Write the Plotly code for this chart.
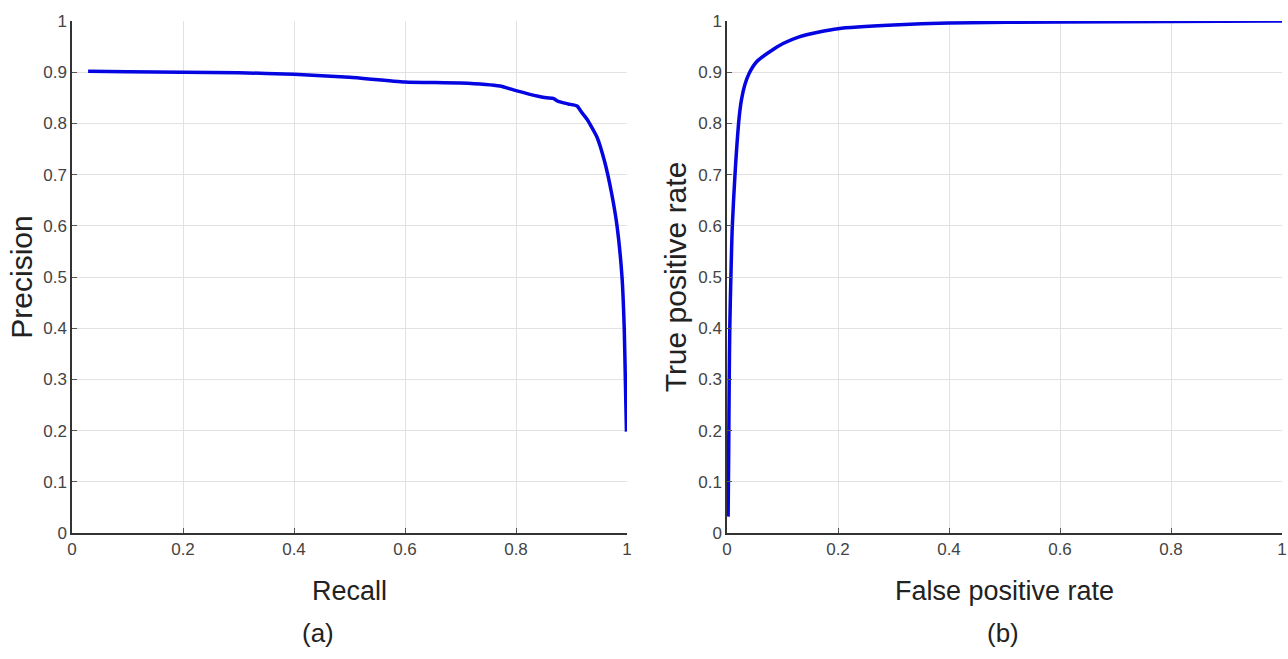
import plotly.graph_objects as go

# Precision-recall curve (a)
recall = [0.029, 0.10, 0.20, 0.30, 0.40, 0.50, 0.60, 0.70, 0.771, 0.80, 0.84, 0.855,
          0.867, 0.876, 0.894, 0.91, 0.918, 0.928, 0.946, 0.960, 0.972, 0.982,
          0.991, 0.995, 0.997, 0.998, 0.999]
precision = [0.902, 0.901, 0.900, 0.899, 0.896, 0.890, 0.881, 0.879, 0.873, 0.864,
             0.853, 0.850, 0.849, 0.843, 0.838, 0.834, 0.822, 0.808, 0.773, 0.724,
             0.665, 0.600, 0.500, 0.400, 0.300, 0.250, 0.198]

# ROC curve (b)
fpr = [0.002, 0.003, 0.004, 0.005, 0.007, 0.0096, 0.0144, 0.018, 0.022, 0.026,
       0.032, 0.040, 0.053, 0.077, 0.101, 0.13, 0.168, 0.20, 0.30, 0.40, 0.60, 0.80, 1.0]
tpr = [0.032, 0.15, 0.30, 0.40, 0.50, 0.60, 0.70, 0.76, 0.813, 0.846,
       0.875, 0.898, 0.920, 0.940, 0.956, 0.969, 0.979, 0.985, 0.992, 0.996, 0.998, 0.999, 1.0]

ticks = [0, 0.1, 0.2, 0.3, 0.4, 0.5, 0.6, 0.7, 0.8, 0.9, 1]
xticks = [0, 0.2, 0.4, 0.6, 0.8, 1]
tick_text_y = ["0", "0.1", "0.2", "0.3", "0.4", "0.5", "0.6", "0.7", "0.8", "0.9", "1"]
tick_text_x = ["0", "0.2", "0.4", "0.6", "0.8", "1"]

W, H = 1288, 659
TOP = 21
BOT = H - 533
line_color = "rgb(5,5,225)"
tick_font = dict(family="Liberation Sans Narrow, Arial Narrow, Liberation Sans", size=17, color="#444444")
xtitle_font = dict(family="Liberation Sans, Arial", size=27, color="#222222")
ytitle_font = dict(family="Liberation Sans, Arial", size=30, color="#222222")

fig = go.Figure()
fig.add_trace(go.Scatter(x=recall, y=precision, mode="lines",
                         line=dict(color=line_color, width=3.5, shape="spline", smoothing=0.5),
                         xaxis="x", yaxis="y", showlegend=False, hoverinfo="skip"))
fig.add_trace(go.Scatter(x=fpr, y=tpr, mode="lines",
                         line=dict(color=line_color, width=3.5, shape="spline", smoothing=0.8),
                         xaxis="x2", yaxis="y2", showlegend=False, hoverinfo="skip"))

def xax(domain, title, anchor):
    return dict(domain=domain, range=[0, 1], tickvals=xticks, ticktext=tick_text_x,
                showgrid=True, gridcolor="#e2e2e2", gridwidth=1, zeroline=False,
                showline=True, linecolor="#333333", linewidth=1.5, mirror=False,
                ticks="inside", ticklen=5, tickcolor="#555555", automargin=False,
                tickfont=tick_font, title=dict(text=title, font=xtitle_font, standoff=23),
                anchor=anchor, fixedrange=True)

def yax(domain, title, anchor, standoff):
    return dict(domain=domain, range=[0, 1], tickvals=ticks, ticktext=tick_text_y,
                showgrid=True, gridcolor="#e2e2e2", gridwidth=1, zeroline=False,
                showline=True, linecolor="#333333", linewidth=1.5, mirror=False,
                ticks="inside", ticklen=5, tickcolor="#555555", automargin=False,
                tickfont=tick_font, title=dict(text=title, font=ytitle_font, standoff=standoff),
                anchor=anchor, fixedrange=True)

fig.update_layout(
    width=W, height=H,
    margin=dict(l=0, r=0, t=TOP, b=BOT),
    paper_bgcolor="white", plot_bgcolor="white",
    xaxis=xax([72 / W, 627 / W], "Recall", "y"),
    yaxis=yax([0, 1], "Precision", "x", 2),
    xaxis2=xax([727 / W, 1282 / W], "False positive rate", "y2"),
    yaxis2=yax([0, 1], "True positive rate", "x2", 3),
)
plot_h = H - TOP - BOT
for label, px, py in [("(a)", 318, 633), ("(b)", 1003, 633)]:
    fig.add_annotation(text=label, x=px / W, y=(H - BOT - py) / plot_h,
                       xref="paper", yref="paper", showarrow=False,
                       xanchor="center", yanchor="middle",
                       font=dict(family="Liberation Sans Narrow, Arial Narrow, Liberation Sans",
                                 size=26, color="#222222"))

fig.write_html("out.html", config={"displayModeBar": False},
               post_script="document.body.style.margin='0';document.body.style.overflow='hidden';")
